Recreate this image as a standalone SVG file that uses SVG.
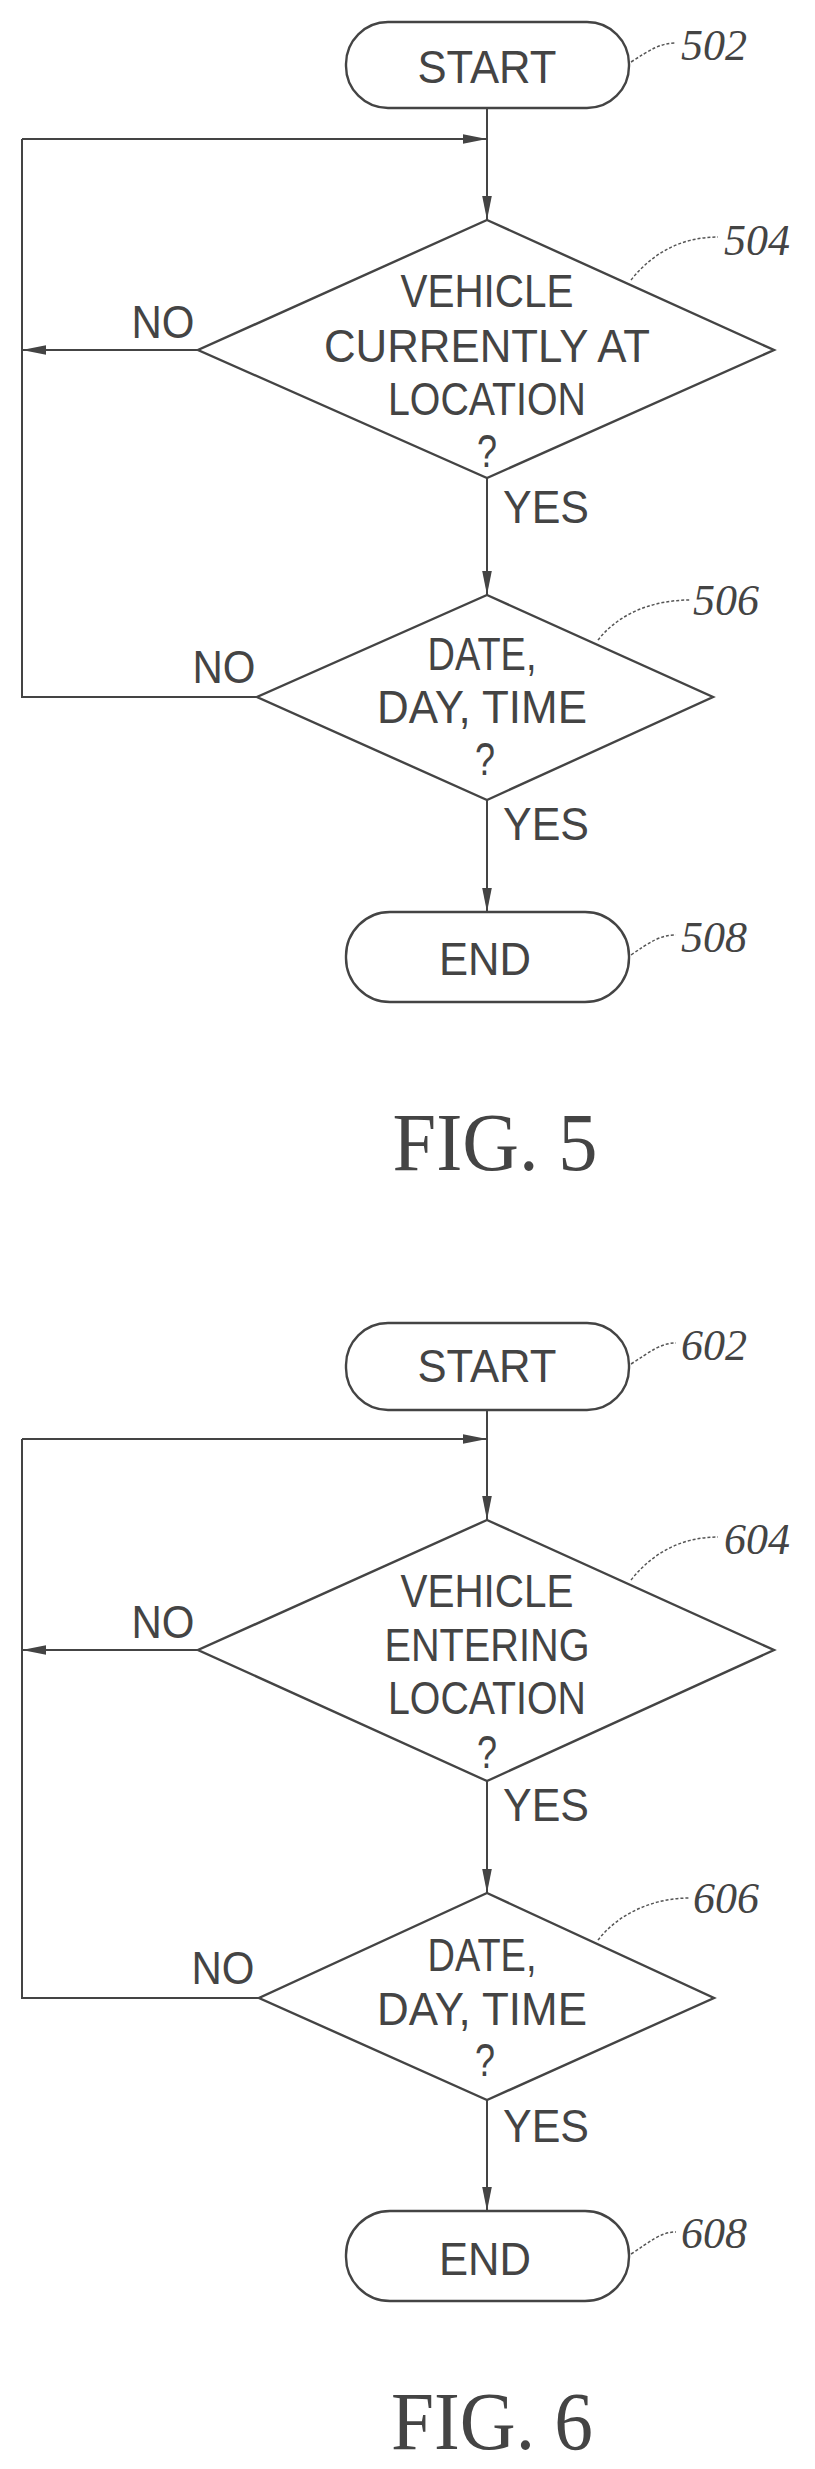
<svg xmlns="http://www.w3.org/2000/svg" width="815" height="2469" viewBox="0 0 815 2469">
<style>
.s{fill:none;stroke:#444;stroke-width:2}
.d{fill:none;stroke:#555;stroke-width:1.5;stroke-dasharray:3 2}
.n{fill:#fff;stroke:#444;stroke-width:2.4}
.t{font-family:"Liberation Sans",Arial,sans-serif;font-size:47px;fill:#444;text-anchor:middle}
.l{font-family:"Liberation Serif",serif;font-style:italic;font-size:44px;fill:#444}
.f{font-family:"Liberation Serif",serif;font-size:82px;fill:#444;text-anchor:middle}
</style>
<defs>
<marker id="a" viewBox="0 0 20 10" refX="20" refY="5" markerWidth="30" markerHeight="12" markerUnits="userSpaceOnUse" orient="auto"><path d="M0,1 L20,5 L0,9 Z" fill="#444"/></marker>
</defs>
<g id="connectors">
<path class="s" d="M487,108 V220" marker-end="url(#a)"/>
<path class="s" d="M22,139 H487" marker-end="url(#a)"/>
<path class="s" d="M198,350 H22" marker-end="url(#a)"/>
<path class="s" d="M487,478 V595" marker-end="url(#a)"/>
<path class="s" d="M257,697 H22 V139"/>
<path class="s" d="M487,800 V912" marker-end="url(#a)"/>
<path class="d" d="M631,62 C650,50 660,43 676,43"/>
<path class="d" d="M631,280 C655,250 685,237 718,237"/>
<path class="d" d="M598,640 C620,612 655,600 690,600"/>
<path class="d" d="M631,955 C650,942 660,935 676,935"/>
<path class="s" d="M487,1410 V1520" marker-end="url(#a)"/>
<path class="s" d="M22,1439 H487" marker-end="url(#a)"/>
<path class="s" d="M198,1650 H22" marker-end="url(#a)"/>
<path class="s" d="M487,1781 V1893" marker-end="url(#a)"/>
<path class="s" d="M259,1998 H22 V1439"/>
<path class="s" d="M487,2100 V2211" marker-end="url(#a)"/>
<path class="d" d="M631,1364 C650,1352 660,1343 676,1343"/>
<path class="d" d="M631,1580 C655,1550 685,1537 718,1537"/>
<path class="d" d="M598,1940 C620,1912 655,1898 690,1898"/>
<path class="d" d="M631,2254 C650,2242 660,2232 676,2232"/>
</g>
<g id="n502"><rect class="n" x="346" y="22" width="283" height="86" rx="42"/><text class="t" x="487" y="83" textLength="139" lengthAdjust="spacingAndGlyphs">START</text><text class="l" x="681" y="60">502</text></g>
<g id="n504"><polygon class="n" points="487,220 774,350 487,478 198,350"/><text class="t" x="487" y="307" textLength="173" lengthAdjust="spacingAndGlyphs">VEHICLE</text><text class="t" x="487" y="362" textLength="326" lengthAdjust="spacingAndGlyphs">CURRENTLY AT</text><text class="t" x="487" y="415" textLength="198" lengthAdjust="spacingAndGlyphs">LOCATION</text><text class="t" x="487" y="467" textLength="20" lengthAdjust="spacingAndGlyphs">?</text><text class="l" x="724" y="255">504</text></g>
<g id="l5a"><text class="t" x="163" y="338" textLength="63" lengthAdjust="spacingAndGlyphs">NO</text><text class="t" x="546" y="523" textLength="86" lengthAdjust="spacingAndGlyphs">YES</text></g>
<g id="n506"><polygon class="n" points="487,595 713,697 487,800 257,697"/><text class="t" x="482" y="670" textLength="109" lengthAdjust="spacingAndGlyphs">DATE,</text><text class="t" x="482" y="723" textLength="210" lengthAdjust="spacingAndGlyphs">DAY, TIME</text><text class="t" x="485" y="775" textLength="20" lengthAdjust="spacingAndGlyphs">?</text><text class="l" x="693" y="615">506</text></g>
<g id="l5b"><text class="t" x="224" y="683" textLength="63" lengthAdjust="spacingAndGlyphs">NO</text><text class="t" x="546" y="840" textLength="86" lengthAdjust="spacingAndGlyphs">YES</text></g>
<g id="n508"><rect class="n" x="346" y="912" width="283" height="90" rx="44"/><text class="t" x="485" y="975" textLength="92" lengthAdjust="spacingAndGlyphs">END</text><text class="l" x="681" y="952">508</text></g>
<text class="f" x="495" y="1170" textLength="205" lengthAdjust="spacingAndGlyphs">FIG. 5</text>
<g id="n602"><rect class="n" x="346" y="1323" width="283" height="87" rx="42"/><text class="t" x="487" y="1382" textLength="139" lengthAdjust="spacingAndGlyphs">START</text><text class="l" x="681" y="1360">602</text></g>
<g id="n604"><polygon class="n" points="487,1520 774,1650 487,1781 198,1650"/><text class="t" x="487" y="1607" textLength="173" lengthAdjust="spacingAndGlyphs">VEHICLE</text><text class="t" x="487" y="1661" textLength="205" lengthAdjust="spacingAndGlyphs">ENTERING</text><text class="t" x="487" y="1714" textLength="198" lengthAdjust="spacingAndGlyphs">LOCATION</text><text class="t" x="487" y="1768" textLength="20" lengthAdjust="spacingAndGlyphs">?</text><text class="l" x="724" y="1554">604</text></g>
<g id="l6a"><text class="t" x="163" y="1638" textLength="63" lengthAdjust="spacingAndGlyphs">NO</text><text class="t" x="546" y="1821" textLength="86" lengthAdjust="spacingAndGlyphs">YES</text></g>
<g id="n606"><polygon class="n" points="487,1893 714,1998 487,2100 259,1998"/><text class="t" x="482" y="1971" textLength="109" lengthAdjust="spacingAndGlyphs">DATE,</text><text class="t" x="482" y="2025" textLength="210" lengthAdjust="spacingAndGlyphs">DAY, TIME</text><text class="t" x="485" y="2076" textLength="20" lengthAdjust="spacingAndGlyphs">?</text><text class="l" x="693" y="1913">606</text></g>
<g id="l6b"><text class="t" x="223" y="1984" textLength="63" lengthAdjust="spacingAndGlyphs">NO</text><text class="t" x="546" y="2142" textLength="86" lengthAdjust="spacingAndGlyphs">YES</text></g>
<g id="n608"><rect class="n" x="346" y="2211" width="283" height="90" rx="44"/><text class="t" x="485" y="2275" textLength="92" lengthAdjust="spacingAndGlyphs">END</text><text class="l" x="681" y="2248">608</text></g>
<text class="f" x="492" y="2449" textLength="202" lengthAdjust="spacingAndGlyphs">FIG. 6</text>
</svg>
